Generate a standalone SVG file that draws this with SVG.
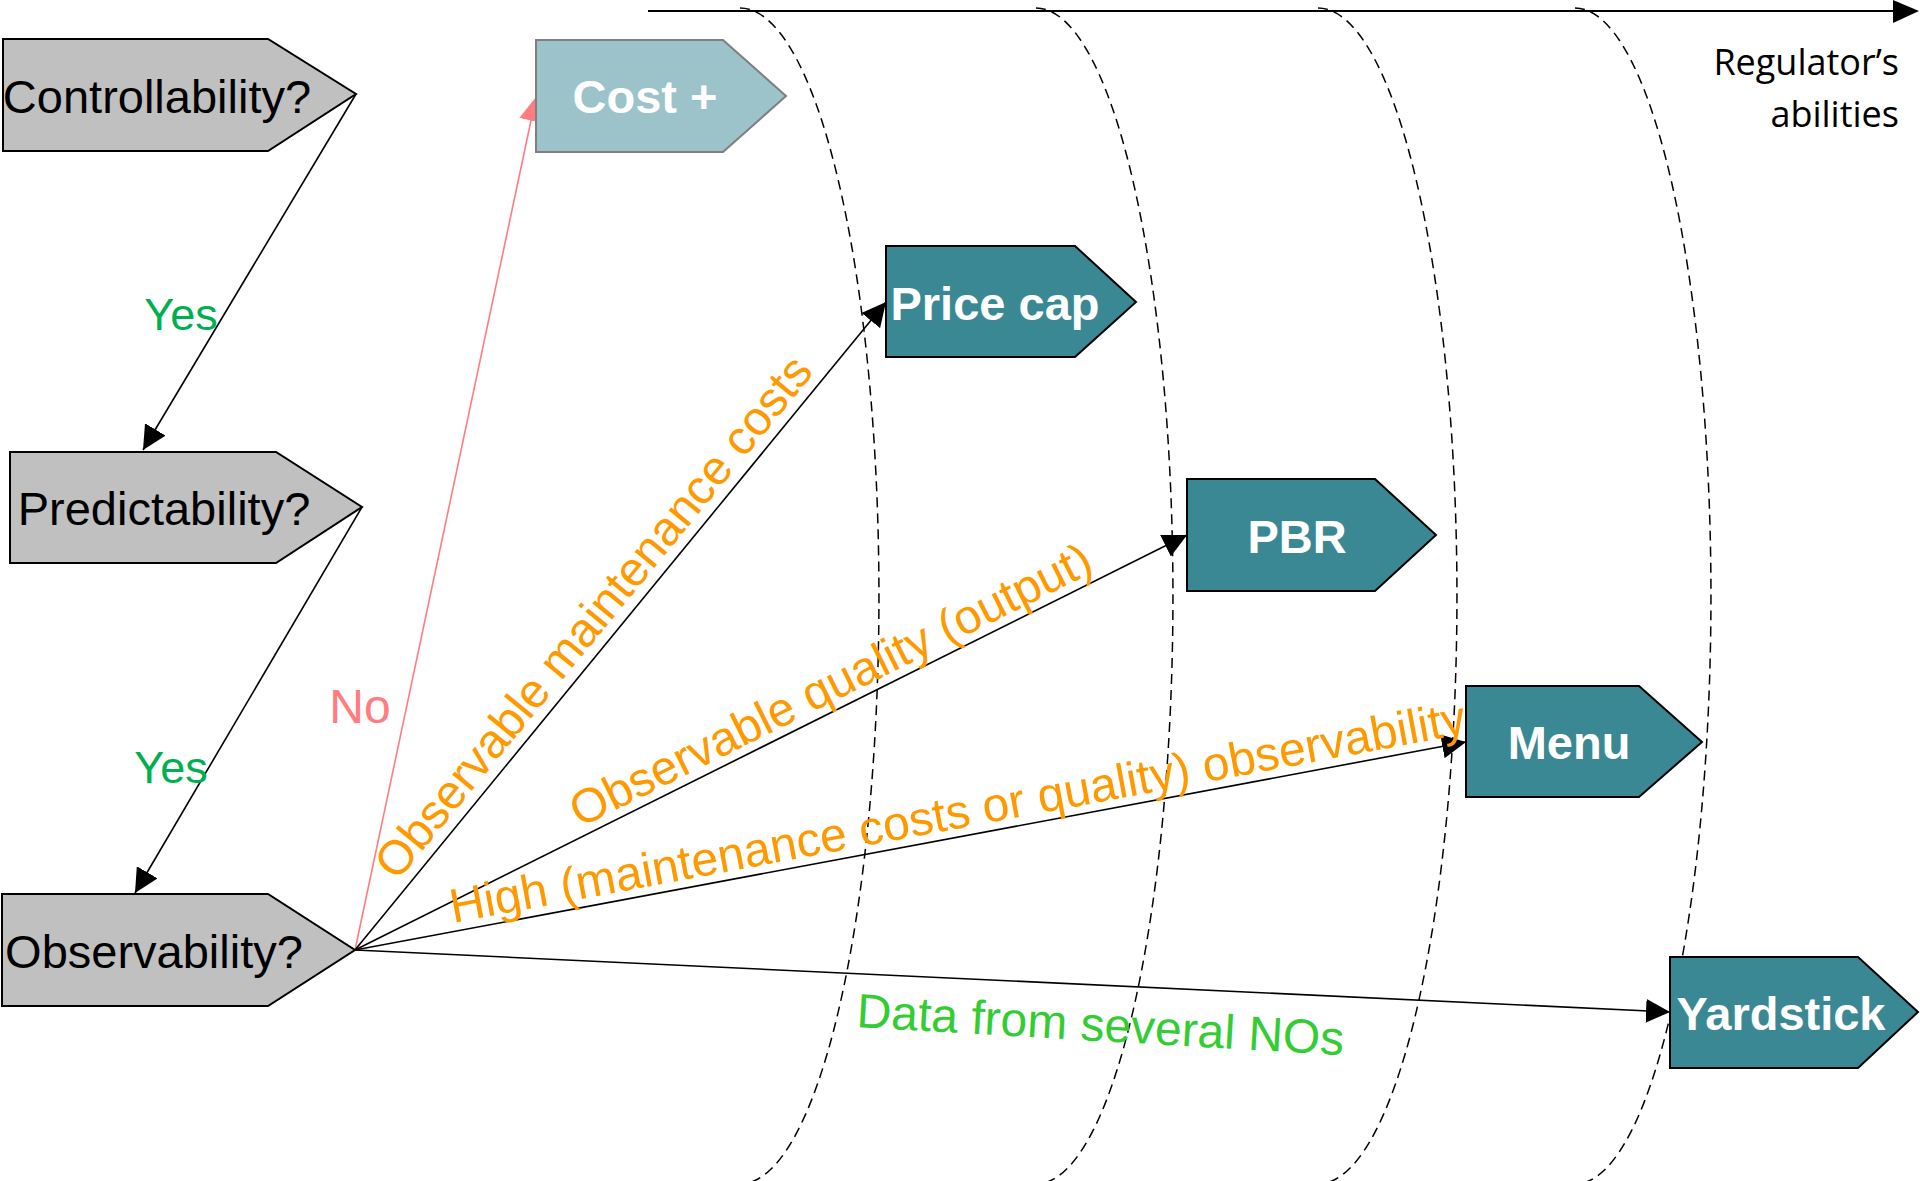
<svg xmlns="http://www.w3.org/2000/svg" width="1920" height="1181" viewBox="0 0 1920 1181">
<style>
.q{fill:#C0C0C0;stroke:#000;stroke-width:2}
.t{fill:#3A8893;stroke:#000;stroke-width:2}
.c{fill:#9CC3C9;stroke:#7F7F7F;stroke-width:2}
.qt{font-family:"Liberation Sans",Arial,sans-serif;font-size:47px;fill:#000;text-anchor:middle}
.tt{font-family:"Liberation Sans",Arial,sans-serif;font-size:47px;font-weight:bold;fill:#fff;text-anchor:middle}
.lbl{font-family:"Liberation Sans",Arial,sans-serif;font-size:48px}
.yes{fill:#00B050;font-size:45px;text-anchor:middle}
.no{fill:#FF7C80;text-anchor:middle}
.or{fill:#FF9900}
.gr{fill:#33CC33}
.ln{stroke:#000;stroke-width:1.6;fill:none}
.dash{stroke:#000;stroke-width:1.5;fill:none;stroke-dasharray:10 6}
.reg{font-family:"Open Sans","Liberation Sans",sans-serif;font-size:36px;fill:#000;text-anchor:end}
</style>
<defs>
<marker id="ah" markerUnits="userSpaceOnUse" markerWidth="24" markerHeight="24" viewBox="0 0 24 24" refX="24" refY="12" orient="auto"><path d="M0,0 L24,12 L0,24 z" fill="#000"/></marker>
<marker id="ahp" markerUnits="userSpaceOnUse" markerWidth="24" markerHeight="24" viewBox="0 0 24 24" refX="24" refY="12" orient="auto"><path d="M0,0 L24,12 L0,24 z" fill="#FF7C80"/></marker>
</defs>
<rect width="1920" height="1181" fill="#fff"/>
<g id="axis">
<line x1="648" y1="11" x2="1895" y2="11" stroke="#000" stroke-width="2"/>
<polygon points="1893,0 1919,11 1893,23" fill="#000"/>
<text class="reg" x="1899" y="75">Regulator’s</text>
<text class="reg" x="1899" y="127">abilities</text>
</g>
<g id="boundaries">
<path class="dash" d="M740,8 A139,588 0 0 1 740,1184"/>
<path class="dash" d="M1036,8 A137,588 0 0 1 1036,1184"/>
<path class="dash" d="M1318,8 A139,588 0 0 1 1318,1184"/>
<path class="dash" d="M1575,8 A136,588 0 0 1 1575,1184"/>
</g>
<g id="connectors">
<line class="ln" x1="356" y1="94" x2="143" y2="450" marker-end="url(#ah)"/>
<line class="ln" x1="362" y1="507" x2="135" y2="893" marker-end="url(#ah)"/>
<line x1="355" y1="950" x2="536" y2="97" stroke="#FF7C80" stroke-width="1.6" marker-end="url(#ahp)"/>
<line class="ln" x1="355" y1="950" x2="886" y2="302" marker-end="url(#ah)"/>
<line class="ln" x1="355" y1="950" x2="1187" y2="535" marker-end="url(#ah)"/>
<line class="ln" x1="355" y1="950" x2="1466" y2="742" marker-end="url(#ah)"/>
<line class="ln" x1="355" y1="950" x2="1670" y2="1012" marker-end="url(#ah)"/>
</g>
<g id="node-controllability">
<polygon class="q" points="3,39 268,39 356,94 268,151 3,151"/>
<text class="qt" x="157" y="113">Controllability?</text>
</g>
<g id="node-predictability">
<polygon class="q" points="10,452 276,452 362,507 276,563 10,563"/>
<text class="qt" x="164" y="525">Predictability?</text>
</g>
<g id="node-observability">
<polygon class="q" points="2,894 268,894 355,950 268,1006 2,1006"/>
<text class="qt" x="154" y="968">Observability?</text>
</g>
<g id="node-costplus">
<polygon class="c" points="536,40 723,40 786,96 723,152 536,152"/>
<text class="tt" x="645" y="113">Cost +</text>
</g>
<g id="node-pricecap">
<polygon class="t" points="886,246 1075,246 1136,302 1075,357 886,357"/>
<text class="tt" x="995" y="320">Price cap</text>
</g>
<g id="node-pbr">
<polygon class="t" points="1187,479 1375,479 1436,535 1375,591 1187,591"/>
<text class="tt" x="1297" y="553">PBR</text>
</g>
<g id="node-menu">
<polygon class="t" points="1466,686 1639,686 1702,742 1639,797 1466,797"/>
<text class="tt" x="1569" y="759">Menu</text>
</g>
<g id="node-yardstick">
<polygon class="t" points="1670,957 1858,957 1918,1012 1858,1068 1670,1068"/>
<text class="tt" x="1781" y="1030">Yardstick</text>
</g>
<g id="labels">
<text class="lbl yes" x="181" y="330">Yes</text>
<text class="lbl yes" x="171" y="783">Yes</text>
<text class="lbl no" x="360" y="723">No</text>
<text class="lbl or" transform="translate(397,882) rotate(-50.67)">Observable maintenance costs</text>
<text class="lbl or" transform="translate(580,828) rotate(-26.5)">Observable quality (output)</text>
<text class="lbl or" transform="translate(453,923) rotate(-10.6)">High (maintenance costs or quality) observability</text>
<text class="lbl gr" transform="translate(856,1027) rotate(3.3)">Data from several NOs</text>
</g>
</svg>
